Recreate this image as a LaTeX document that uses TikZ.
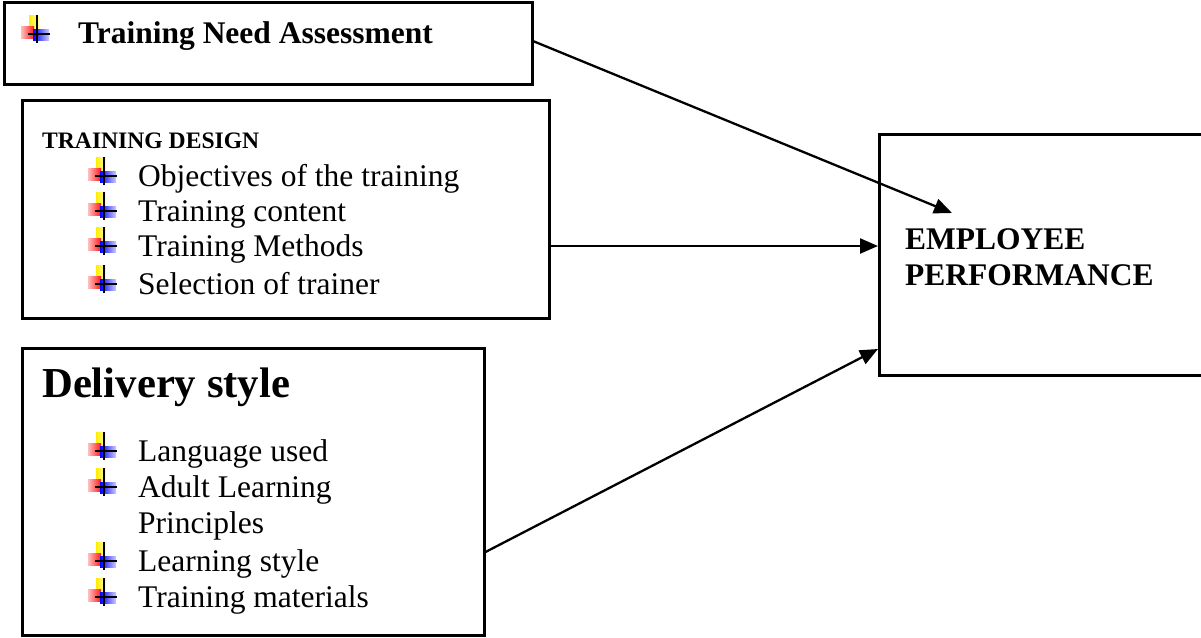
\documentclass[tikz,border=0pt]{standalone}
\usepackage{fontspec}
\setmainfont{Liberation Serif}
\usetikzlibrary{arrows.meta}
\tikzset{
  box/.style={draw=black, line width=2.5pt},
  conn/.style={line width=2.3pt, -{Triangle[length=18pt,width=15pt]}},
  txt/.style={anchor=base west, inner sep=0pt, font=\fontsize{31.5}{36}\selectfont},
  btxt/.style={txt, font=\fontsize{31.5}{36}\selectfont\bfseries},
  bulletmark/.pic={
    \shade[left color=yellow!85!orange, right color=yellow!30] (-8,-19) rectangle (2,-5);
    \shade[left color=red!25, right color=red!90] (-16,-8) rectangle (-3,4);
    \shade[left color=blue, right color=blue!20] (-4,-5) rectangle (12,6);
    \draw[line width=2.2pt] (0,-19) -- (0,9);
    \draw[line width=2.2pt] (-9,0) -- (13,0);
  }
}
\begin{document}
\begin{tikzpicture}[x=1pt,y=-1pt]
\useasboundingbox (0,0) rectangle (1201,637);
% boxes
\node[box, minimum width=528pt, minimum height=82pt, anchor=north west, inner sep=0pt] (tna) at (3,1) {};
\node[box, minimum width=527pt, minimum height=218pt, anchor=north west, inner sep=0pt] (td) at (21,99) {};
\node[box, minimum width=462pt, minimum height=287pt, anchor=north west, inner sep=0pt] (ds) at (21,347) {};
\node[box, minimum width=330pt, minimum height=241pt, anchor=north west, inner sep=0pt] (ep) at (878,133) {};
% box 1
\pic at (37,34) {bulletmark};
\node[btxt] (t1) at (78,43) {Training Need Assessment};
% box 2
\node[txt, font=\fontsize{23.6}{27}\selectfont\bfseries] (t2) at (42,148) {TRAINING DESIGN};
\pic at (104,176) {bulletmark};
\node[txt] (a1) at (138,186) {Objectives of the training};
\pic at (104,211) {bulletmark};
\node[txt] (a2) at (138,221) {Training content};
\pic at (104,246) {bulletmark};
\node[txt] (a3) at (138,256) {Training Methods};
\pic at (104,284) {bulletmark};
\node[txt] (a4) at (138,294) {Selection of trainer};
% box 3
\node[txt, font=\fontsize{42.7}{48}\selectfont\bfseries] (t3) at (42,397) {Delivery style};
\pic at (104,451) {bulletmark};
\node[txt] (b1) at (138,461) {Language used};
\pic at (104,487) {bulletmark};
\node[txt] (b2) at (138,497) {Adult Learning};
\node[txt] (b2b) at (138,533) {Principles};
\pic at (104,561) {bulletmark};
\node[txt] (b3) at (138,571) {Learning style};
\pic at (104,597) {bulletmark};
\node[txt] (b4) at (138,607) {Training materials};
% box 4
\node[btxt] (e1) at (905,249) {EMPLOYEE};
\node[btxt] (e2) at (905,285) {PERFORMANCE};
% connectors
\coordinate (tip1) at (952,213);
\draw[conn] (tna.east) ++(0,-2) coordinate (s1) -- (tip1);
\draw[conn] (td.east |- 0,246) -- (ep.west |- 0,246);
\draw[conn] (ds.east |- 0,552) -- (ep.west |- 0,349);
\end{tikzpicture}
\end{document}
